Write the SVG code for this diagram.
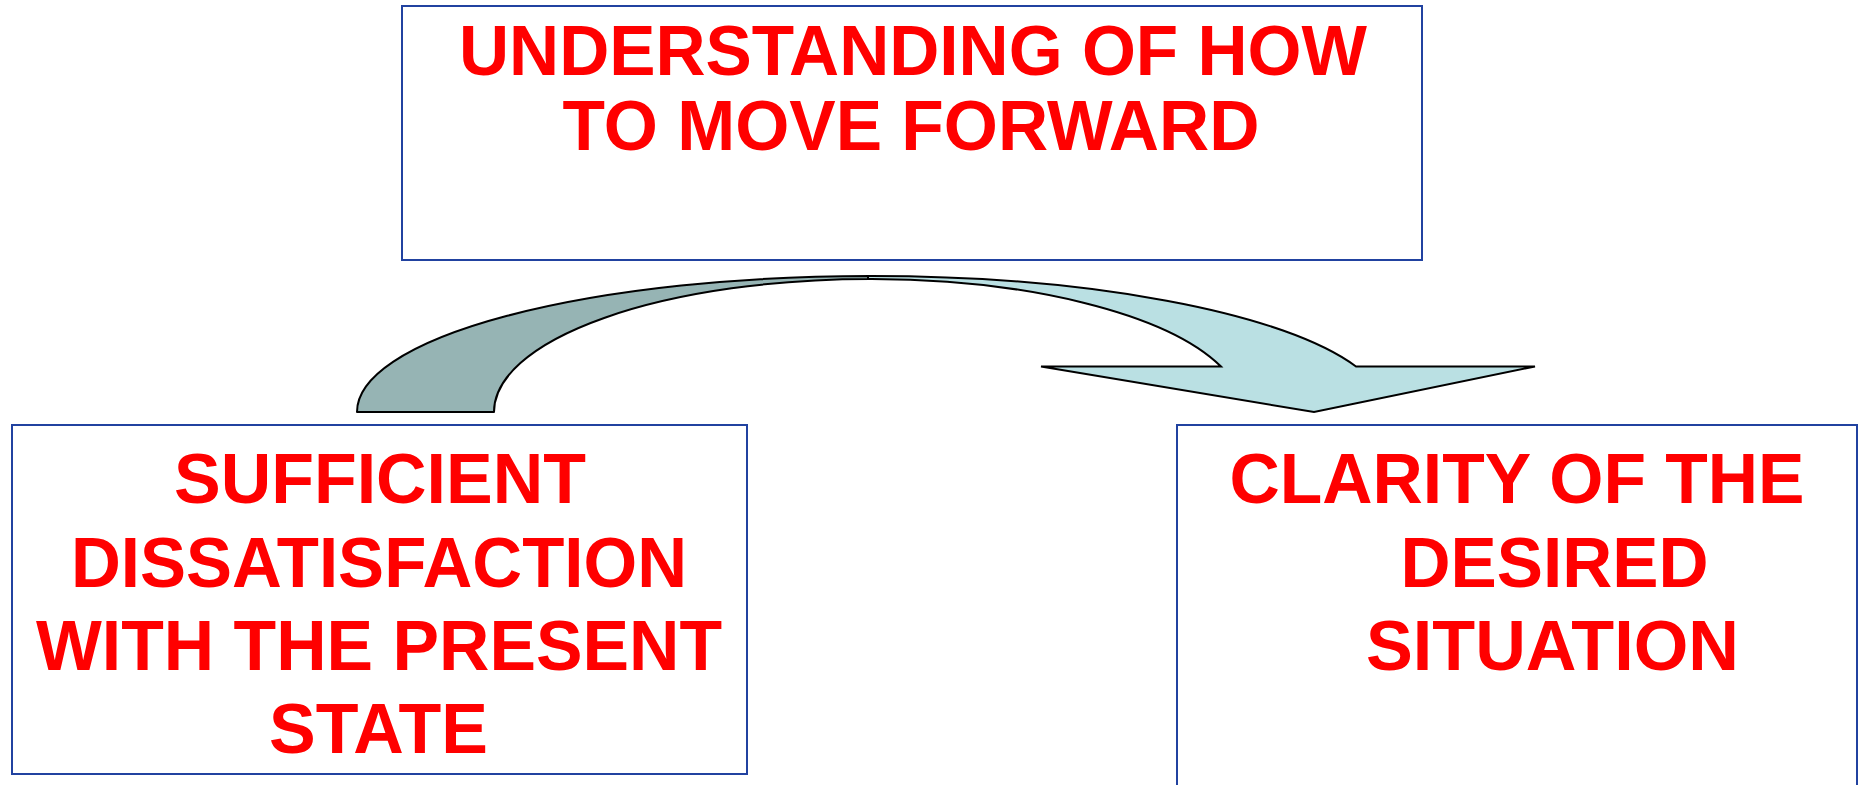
<svg xmlns="http://www.w3.org/2000/svg" width="1861" height="785" viewBox="0 0 1861 785">
<style>
.box{fill:#ffffff;stroke:#2142a0;stroke-width:2}
.t{font-family:"Liberation Sans",Arial,sans-serif;font-weight:bold;font-size:71px;fill:#ff0000;text-anchor:middle}
.dark{fill:#96b4b4;stroke:#000000;stroke-width:2;stroke-linejoin:round}
.light{fill:#bae0e3;stroke:#000000;stroke-width:2;stroke-linejoin:miter}
</style>
<rect width="1861" height="785" fill="#ffffff"/>
<g id="node-top">
<rect class="box" x="402" y="6" width="1020" height="254"/>
<text class="t" x="913" y="75" textLength="908" lengthAdjust="spacingAndGlyphs">UNDERSTANDING OF HOW</text>
<text class="t" x="911" y="150" textLength="697" lengthAdjust="spacingAndGlyphs">TO MOVE FORWARD</text>
</g>
<g id="node-left">
<rect class="box" x="12" y="425" width="735" height="349"/>
<text class="t" x="380" y="503" textLength="412" lengthAdjust="spacingAndGlyphs">SUFFICIENT</text>
<text class="t" x="379" y="587" textLength="616" lengthAdjust="spacingAndGlyphs">DISSATISFACTION</text>
<text class="t" x="379" y="670" textLength="686" lengthAdjust="spacingAndGlyphs">WITH THE PRESENT</text>
<text class="t" x="378.5" y="753" textLength="219" lengthAdjust="spacingAndGlyphs">STATE</text>
</g>
<g id="node-right">
<rect class="box" x="1177" y="425" width="680" height="370"/>
<text class="t" x="1517" y="503" textLength="575" lengthAdjust="spacingAndGlyphs">CLARITY OF THE</text>
<text class="t" x="1554.5" y="587" textLength="308" lengthAdjust="spacingAndGlyphs">DESIRED</text>
<text class="t" x="1552.5" y="670" textLength="373" lengthAdjust="spacingAndGlyphs">SITUATION</text>
</g>
<g id="connectors">
<path class="dark" d="M357,412 A513,136 0 0 1 870,276 L870,279 A376,133 0 0 0 494,412 Z"/>
<path class="light" d="M868,276 A515,136 0 0 1 1356,366.5 L1535,366.5 L1314,412 L1041,366.5 L1221,366.5 A372,133 0 0 0 868,279 Z"/>
</g>
</svg>
